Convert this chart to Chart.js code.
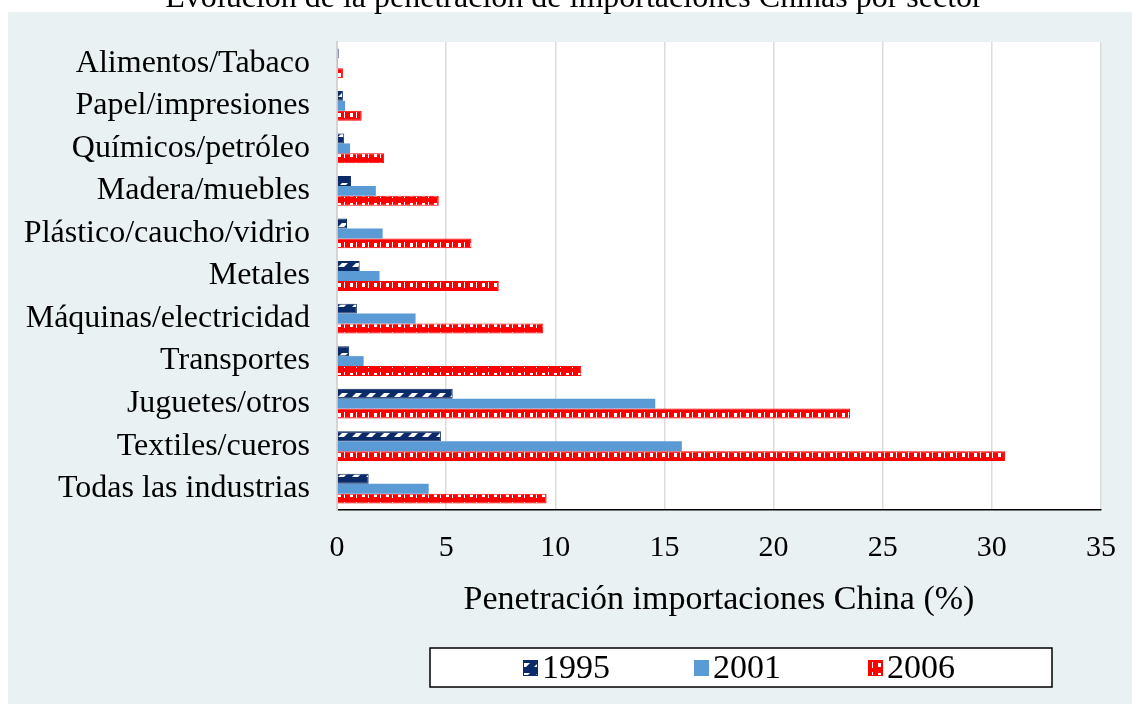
<!DOCTYPE html>
<html>
<head>
<meta charset="utf-8">
<script src="https://cdn.jsdelivr.net/npm/chart.js@4/dist/chart.umd.min.js"></script>
<style>
  body { margin: 0; background: #fff; }
  #grafico { display: block; }
</style>
</head>
<body>
<canvas id="grafico" width="1132" height="704"></canvas>
<script>
const sectores = [
  'Alimentos/Tabaco',
  'Papel/impresiones',
  'Químicos/petróleo',
  'Madera/muebles',
  'Plástico/caucho/vidrio',
  'Metales',
  'Máquinas/electricidad',
  'Transportes',
  'Juguetes/otros',
  'Textiles/cueros',
  'Todas las industrias'
];
const anos = ['1995', '2001', '2006'];
const pen1995 = [0.08, 0.27, 0.33, 0.64, 0.46, 1.04, 0.91, 0.56, 5.3, 4.76, 1.45];
const pen2001 = [0.02, 0.37, 0.6, 1.78, 2.09, 1.95, 3.6, 1.22, 14.58, 15.8, 4.2];
const pen2006 = [0.27, 1.13, 2.16, 4.66, 6.16, 7.41, 9.45, 11.19, 23.5, 30.6, 9.6];
const ejeMin = 0, ejeMax = 35, ejePaso = 5;

const titulo = 'Evolución de la penetración de importaciones Chinas por sector';
const tituloEje = 'Penetración importaciones China (%)';

const navy = '#0b2a68';
const azul = '#5b9bd5';
const rojo = '#ff0000';
const fondo = '#e9f1f3';
const fuente = "'Liberation Serif', 'DejaVu Serif', serif";

// patroon 1995: donkerblauw met witte schuine streepjes
const maakRayas = function () {
  const c = document.createElement('canvas');
  c.width = 14; c.height = 10;
  const g = c.getContext('2d');
  g.fillStyle = navy;
  g.fillRect(0, 0, 14, 10);
  g.fillStyle = '#fff';
  g.beginPath();
  g.moveTo(2, 7); g.lineTo(6, 3); g.lineTo(12, 3); g.lineTo(8, 7);
  g.closePath();
  g.fill();
  return g.createPattern(c, 'repeat');
};

// patroon 2006: rood met witte gaatjes
const maakCeros = function () {
  const c = document.createElement('canvas');
  c.width = 12; c.height = 10;
  const g = c.getContext('2d');
  g.fillStyle = rojo;
  g.fillRect(0, 0, 12, 10);
  g.fillStyle = '#fff';
  g.fillRect(2, 3, 3, 4);
  g.fillRect(8, 2, 1, 6);
  return g.createPattern(c, 'repeat');
};

const rayas = maakRayas();
const ceros = maakCeros();

const fondoPlugin = {
  id: 'fondo',
  beforeDraw(chart) {
    const ctx = chart.ctx;
    const a = chart.chartArea;
    ctx.save();
    ctx.fillStyle = '#fff';
    ctx.fillRect(0, 0, chart.width, chart.height);
    ctx.fillStyle = fondo;
    ctx.fillRect(8, 12, chart.width - 8, chart.height - 12);
    ctx.fillStyle = '#fff';
    ctx.fillRect(a.left, a.top, a.right - a.left, a.bottom - a.top);
    ctx.fillStyle = '#000';
    ctx.font = '32px ' + fuente;
    ctx.textAlign = 'center';
    ctx.textBaseline = 'alphabetic';
    ctx.fillText(titulo, 574, 7);
    ctx.restore();
  }
};

const leyendaPlugin = {
  id: 'leyenda',
  afterDraw(chart) {
    const ctx = chart.ctx;
    ctx.save();
    ctx.fillStyle = '#fff';
    ctx.fillRect(430, 648, 622, 39);
    ctx.strokeStyle = '#000';
    ctx.lineWidth = 1.5;
    ctx.strokeRect(430, 648, 622, 39);
    const xs = [523, 694, 868];
    ctx.font = '34px ' + fuente;
    ctx.textBaseline = 'alphabetic';
    ctx.textAlign = 'left';
    chart.data.datasets.forEach(function (ds, i) {
      ctx.fillStyle = ds.backgroundColor;
      ctx.fillRect(xs[i], 660, 15, 16);
      if (ds.borderWidth) {
        ctx.strokeStyle = ds.borderColor;
        ctx.lineWidth = 1;
        ctx.strokeRect(xs[i] + 0.5, 660.5, 14, 15);
      }
      ctx.fillStyle = '#000';
      ctx.fillText(ds.label, xs[i] + 19, 678);
    });
    ctx.restore();
  }
};

Chart.defaults.font.family = fuente;
Chart.defaults.color = '#000';

new Chart(document.getElementById('grafico'), {
  type: 'bar',
  data: {
    labels: sectores,
    datasets: [
      { label: anos[0], data: pen1995, backgroundColor: rayas, borderColor: navy, borderWidth: 1 },
      { label: anos[1], data: pen2001, backgroundColor: azul, borderWidth: 0 },
      { label: anos[2], data: pen2006, backgroundColor: ceros, borderColor: rojo, borderWidth: 1 }
    ]
  },
  options: {
    indexAxis: 'y',
    responsive: false,
    animation: false,
    devicePixelRatio: 1,
    datasets: { bar: { barPercentage: 1, categoryPercentage: 0.7 } },
    layout: { padding: { left: 8, right: 31, top: 42, bottom: 84 } },
    plugins: {
      legend: { display: false },
      tooltip: { enabled: false }
    },
    scales: {
      x: {
        min: ejeMin,
        max: ejeMax,
        ticks: { stepSize: ejePaso, padding: 20, font: { size: 30 } },
        grid: { color: '#dcdcdc', lineWidth: 1.5, drawTicks: false },
        border: { color: '#000', width: 1.5 },
        title: { display: true, text: tituloEje, font: { size: 34 }, padding: 0 },
        afterFit(scale) {
          scale.height = 110;
          scale.paddingLeft = 0;
          scale.paddingRight = 0;
        }
      },
      y: {
        ticks: { padding: 27, font: { size: 32 } },
        grid: { display: false, drawTicks: false },
        border: { color: '#d4d4d4', width: 2 },
        afterFit(scale) {
          scale.width = 329;
          scale.paddingTop = 0;
          scale.paddingBottom = 0;
        }
      }
    }
  },
  plugins: [fondoPlugin, leyendaPlugin]
});
</script>
</body>
</html>
